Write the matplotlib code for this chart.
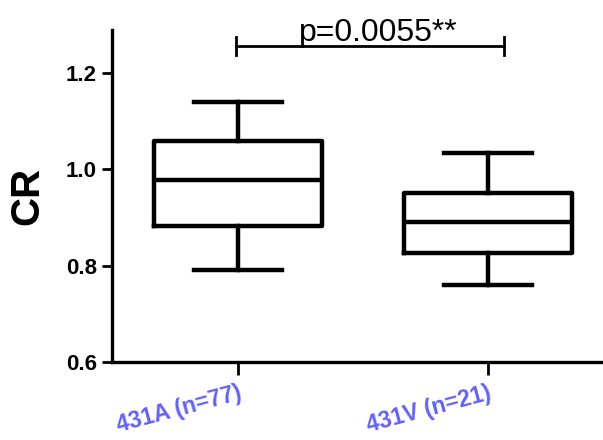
import matplotlib
matplotlib.use("Agg")
import matplotlib.pyplot as plt

plt.rcParams['font.family'] = ['Liberation Sans', 'DejaVu Sans']

# box summary values
groups = ['431A (n=77)', '431V (n=21)']
whis_low = [0.792, 0.760]
q1 = [0.883, 0.827]
median = [0.977, 0.891]
q3 = [1.060, 0.952]
whis_high = [1.141, 1.034]

p_text = 'p=0.0055**'
bracket_y = 1.256

stats = []
for i, name in enumerate(groups):
    stats.append({'label': name, 'whislo': whis_low[i], 'q1': q1[i], 'med': median[i],
                  'q3': q3[i], 'whishi': whis_high[i], 'fliers': []})

fig = plt.figure(figsize=(6.03, 4.4), dpi=100)
ax = fig.add_axes([0.1857, 0.1773, 0.8143, 0.755])

lw = 3.2
ax.bxp(stats, positions=[1, 2], widths=0.672, capwidths=0.35, showfliers=False,
       boxprops=dict(linewidth=lw, color='black'),
       medianprops=dict(linewidth=lw, color='black'),
       whiskerprops=dict(linewidth=lw, color='black'),
       capprops=dict(linewidth=lw, color='black'))

ax.set_xlim(0.496, 2.46)
ax.set_ylim(0.6, 1.29)
ax.set_yticks([0.6, 0.8, 1.0, 1.2])
ax.set_yticklabels(['0.6', '0.8', '1.0', '1.2'], fontsize=16, fontweight='bold')
ax.set_xticks([1, 2])
ax.set_xticklabels(groups, fontsize=16.5, fontweight='bold', color='#6060ff',
                   rotation=15, ha='right', rotation_mode='anchor')
ax.tick_params(axis='both', width=2, length=7, pad=4)
ax.tick_params(axis='x', length=9, pad=5)

for side in ['top', 'right']:
    ax.spines[side].set_visible(False)
for side in ['left', 'bottom']:
    ax.spines[side].set_linewidth(2.4)

ax.set_ylabel('CR', fontsize=29, fontweight='bold', labelpad=14)

# significance bracket
x0, x1 = 0.992, 2.064
h = 0.019
ax.plot([x0, x1], [bracket_y, bracket_y], color='black', lw=2, clip_on=False)
ax.plot([x0, x0], [bracket_y - h, bracket_y + h], color='black', lw=2, clip_on=False)
ax.plot([x1, x1], [bracket_y - h, bracket_y + h], color='black', lw=2, clip_on=False)
ax.text(1.56, bracket_y + 0.011, p_text, fontsize=23, ha='center', va='baseline')

fig.savefig('out.png', dpi=100)
